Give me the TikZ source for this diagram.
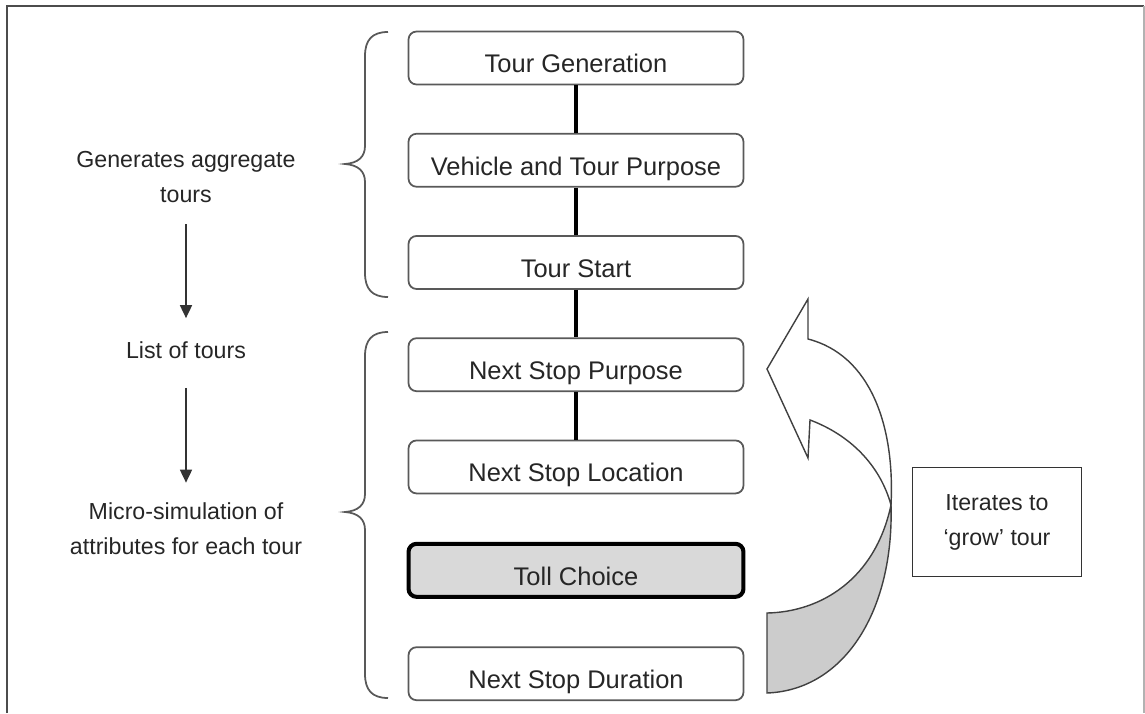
\documentclass[tikz,border=0pt]{standalone}
\usepackage{fontspec}
\setmainfont{Liberation Sans}
\usetikzlibrary{positioning, arrows.meta}

\begin{document}
\begin{tikzpicture}[x=0.02cm, y=-0.02cm,
    stage/.style={rectangle, rounded corners=0.16cm, draw=black!65, line width=1pt,
        minimum width=6.7cm, minimum height=1.06cm, inner sep=2pt,
        text height=17pt, text depth=0pt, text=black!85,
        font=\fontsize{14.5}{17}\selectfont},
    toll/.style={stage, draw=black, line width=2.3pt, fill=black!15},
    link/.style={line width=2.4pt},
    note/.style={align=center, inner sep=0pt, text=black!85,
        font=\fontsize{13.2}{19.9}\selectfont},
    flow/.style={line width=1pt, draw=black!80, -{Triangle[width=0.24cm, length=0.26cm]}},
    curly/.style={line width=1pt, draw=black!65}]
    \useasboundingbox (0,0) rectangle (1145,713);

    % frame
    \draw[black!70, line width=1.2pt] (7,713) -- (7,6) -- (1144,6);
    \draw[black!30, line width=1pt] (1144,6) -- (1144,713);

    % model steps
    \node[stage] (tg) at (576,58) {Tour Generation};
    \node[stage] (vtp) [below=0.95cm of tg] {Vehicle and Tour Purpose};
    \node[stage] (ts) [below=0.95cm of vtp] {Tour Start};
    \node[stage] (nsp) [below=0.95cm of ts] {Next Stop Purpose};
    \node[stage] (nsl) [below=0.95cm of nsp] {Next Stop Location};
    \node[toll] (tc) [below=0.95cm of nsl] {Toll Choice};
    \node[stage] (nsd) [below=0.95cm of tc] {Next Stop Duration};
    \draw[link] (tg) -- (vtp);
    \draw[link] (vtp) -- (ts);
    \draw[link] (ts) -- (nsp);
    \draw[link] (nsp) -- (nsl);

    % braces
    \draw[curly] (388,32) .. controls (372,32) and (365,40) .. (365,56) -- (365,146)
        .. controls (365,157) and (358,163) .. (345,164)
        .. controls (358,165) and (365,171) .. (365,182) -- (365,273)
        .. controls (365,289) and (372,297) .. (388,297);
    \draw[curly] (388,332) .. controls (372,332) and (365,340) .. (365,356) -- (365,494)
        .. controls (365,505) and (358,511) .. (345,512)
        .. controls (358,513) and (365,519) .. (365,530) -- (365,674)
        .. controls (365,690) and (372,698) .. (388,698);

    % left side
    \node[note] (gen) at (186,177) {Generates aggregate\\tours};
    \node[note] (lst) at (186,350) {List of tours};
    \node[note] (mic) at (186,529) {Micro-simulation of\\attributes for each tour};
    \draw[flow, shorten <=0.42cm, shorten >=0.46cm] (gen) -- (lst);
    \draw[flow, shorten <=0.58cm, shorten >=0.4cm] (lst) -- (mic);

    % loop arrow
    \filldraw[fill=black!20, draw=black!75, line width=0.8pt]
        (767,613) .. controls (820,612) and (875,580) .. (891,505)
        .. controls (894,610) and (845,690) .. (767,693) -- cycle;
    \filldraw[fill=white, draw=black!75, line width=0.8pt]
        (808,339) .. controls (870,355) and (895,425) .. (891,505)
        .. controls (880,465) and (850,435) .. (810,420)
        -- (808,458) -- (767,369) -- (808,299) -- cycle;

    \node[note, draw=black!80, line width=1pt, minimum width=3.38cm, minimum height=2.18cm]
        (itr) at (997,522) {Iterates to\\‘grow’ tour};
\end{tikzpicture}
\end{document}
